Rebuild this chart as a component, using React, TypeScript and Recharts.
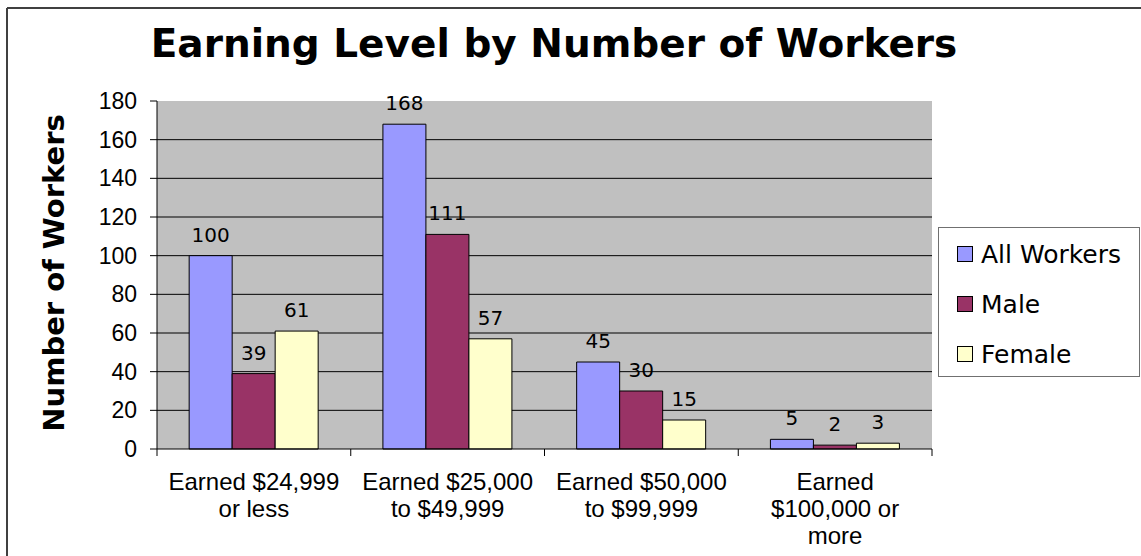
import { Bar, BarChart, CartesianGrid, LabelList, XAxis, YAxis } from "recharts";

const categories = [
    "Earned $24,999\nor less",
    "Earned $25,000\nto $49,999",
    "Earned $50,000\nto $99,999",
    "Earned\n$100,000 or\nmore",
];
const allWorkers = [100, 168, 45, 5];
const male = [39, 111, 30, 2];
const female = [61, 57, 15, 3];
const yTicks = [0, 20, 40, 60, 80, 100, 120, 140, 160, 180];

const series = [
    { key: "all", name: "All Workers", color: "#9999FF" },
    { key: "male", name: "Male", color: "#993366" },
    { key: "female", name: "Female", color: "#FFFFCC" },
];

const data = categories.map((name, i) => ({
    name,
    all: allWorkers[i],
    male: male[i],
    female: female[i],
}));

const W = 1141;
const H = 556;
const X_AXIS_H = 107;
const Y_AXIS_W = 157;
const margin = { top: 101, right: 209, bottom: 0, left: 0 };
const BAND = (W - margin.left - margin.right - Y_AXIS_W) / categories.length;

const axisFont = "'Liberation Sans', Arial, sans-serif";
const labelFont = "'DejaVu Sans', Verdana, sans-serif";

function CategoryTick(props: any) {
    const { x, y, payload, index } = props;
    const lines: string[] = String(payload.value).split("\n");
    const half = BAND / 2;
    return <g>
        <line x1={x - half} y1={y} x2={x - half} y2={y + 7} stroke="#000" />
        {index === categories.length - 1 &&
            <line x1={x + half} y1={y} x2={x + half} y2={y + 7} stroke="#000" />}
        <text x={x} y={y + 41} textAnchor="middle" fontFamily={axisFont} fontSize={24} fill="#000">
            {lines.map((l, i) => <tspan key={i} x={x} dy={i === 0 ? 0 : 27}>{l}</tspan>)}
        </text>
    </g>
}

export default function App() {
    return <div style={{ position: "absolute", left: 0, top: 0, width: W, height: H, background: "#fff", overflow: "hidden" }}>
        <BarChart width={W} height={H} data={data} margin={margin} barCategoryGap="16.6%" barGap={0}>
            <CartesianGrid vertical={false} stroke="#000" fill="#C0C0C0" fillOpacity={1}
                horizontalValues={yTicks.filter(v => v > 0 && v < 180)} />
            <XAxis dataKey="name" interval={0} tickSize={0} tickMargin={0} tickLine={false}
                axisLine={{ stroke: "#000" }} tick={<CategoryTick />} height={X_AXIS_H} />
            <XAxis xAxisId="top" dataKey="name" orientation="top" height={0} tick={false} tickLine={false}
                axisLine={{ stroke: "#808080" }} />
            <YAxis domain={[0, 180]} ticks={yTicks} interval={0} width={Y_AXIS_W} tickSize={7} tickMargin={13}
                axisLine={{ stroke: "#000" }} tickLine={{ stroke: "#000" }}
                tick={{ fontFamily: axisFont, fontSize: 23, fill: "#000" }} />
            <YAxis yAxisId="right" orientation="right" width={0} tick={false} tickLine={false}
                axisLine={{ stroke: "#808080" }} />
            {series.map(s =>
                <Bar key={s.key} dataKey={s.key} name={s.name} fill={s.color} stroke="#000" strokeWidth={1}
                    isAnimationActive={false}>
                    <LabelList dataKey={s.key} position="top" offset={14}
                        style={{ fontFamily: labelFont, fontSize: 20, fill: "#000" }} />
                </Bar>
            )}
        </BarChart>

        <svg width={W} height={H} style={{ position: "absolute", left: 0, top: 0, pointerEvents: "none" }}>
            <line x1={7} y1={8} x2={W} y2={8} stroke="#404040" strokeWidth={2} />
            <line x1={7} y1={8} x2={7} y2={H} stroke="#404040" strokeWidth={2} />
            <text x={554} y={57} textAnchor="middle" fontFamily={labelFont} fontWeight="bold" fontSize={39} fill="#000">
                Earning Level by Number of Workers
            </text>
            <text transform="translate(64, 273) rotate(-90)" textAnchor="middle" fontFamily={labelFont}
                fontWeight="bold" fontSize={29} fill="#000">
                Number of Workers
            </text>
        </svg>

        <div style={{
            position: "absolute", left: 938, top: 227, width: 202, height: 150, boxSizing: "border-box",
            border: "1px solid #707070", background: "#fff", paddingTop: 1,
        }}>
            {series.map(s =>
                <div key={s.key} style={{ height: 50, display: "flex", alignItems: "center" }}>
                    <span style={{
                        display: "inline-block", width: 14, height: 14, marginLeft: 18, marginRight: 8,
                        background: s.color, border: "1px solid #000",
                    }} />
                    <span style={{ fontFamily: labelFont, fontSize: 25, color: "#000" }}>{s.name}</span>
                </div>
            )}
        </div>
    </div>
}
